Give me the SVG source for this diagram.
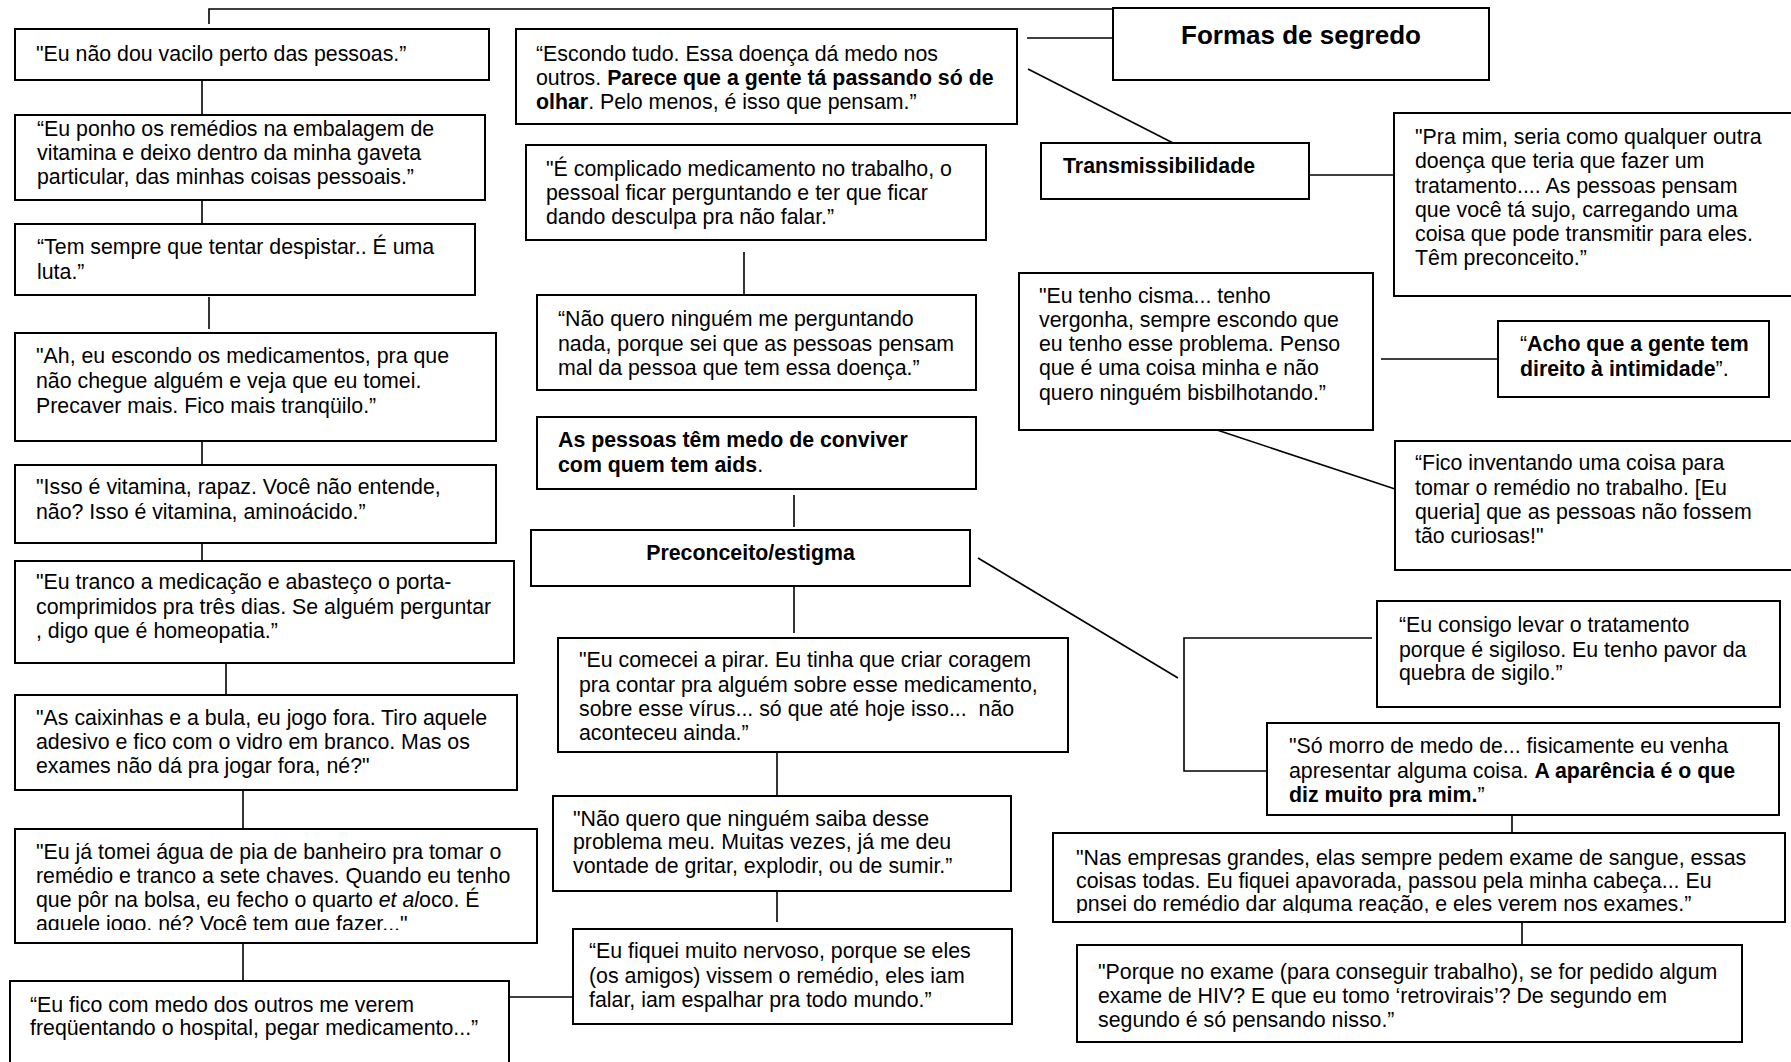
<svg xmlns="http://www.w3.org/2000/svg" width="1791" height="1062" viewBox="0 0 1791 1062">
  <style>
    .box { fill: #ffffff; stroke: #000000; stroke-width: 2; }
    .t { font-family: "Liberation Sans", Arial, sans-serif; font-size: 21.33px; fill: #000000; }
    .b { font-weight: bold; }
    .title { font-family: "Liberation Sans", Arial, sans-serif; font-size: 26px; font-weight: bold; fill: #000000; }
    #connectors line, #connectors polyline { stroke: #000000; stroke-width: 1.6; fill: none; }
  </style>
  <defs>
    <clipPath id="clip-n8"><rect x="15" y="829" width="522" height="101"/></clipPath>
    <clipPath id="clip-n25"><rect x="1053" y="833" width="732" height="80"/></clipPath>
  </defs>
  <rect width="1791" height="1062" fill="#ffffff"/>

  <!-- connectors -->
  <g id="connectors">
    <polyline points="209,24 209,9 1113,9"/>
    <line x1="202" y1="80" x2="202" y2="115"/>
    <line x1="202" y1="200" x2="202" y2="224"/>
    <line x1="209" y1="297" x2="209" y2="329"/>
    <line x1="202" y1="441" x2="202" y2="465"/>
    <line x1="202" y1="537" x2="202" y2="561"/>
    <line x1="226" y1="663" x2="226" y2="695"/>
    <line x1="243" y1="785" x2="243" y2="830"/>
    <line x1="243" y1="937" x2="243" y2="983"/>
    <line x1="509" y1="997" x2="573" y2="997"/>
    <line x1="1027" y1="38" x2="1113" y2="38"/>
    <line x1="1028" y1="69" x2="1177" y2="145"/>
    <line x1="744" y1="252" x2="744" y2="298"/>
    <line x1="794" y1="495" x2="794" y2="527"/>
    <line x1="794" y1="586" x2="794" y2="633"/>
    <line x1="777" y1="752" x2="777" y2="800"/>
    <line x1="777" y1="891" x2="777" y2="922"/>
    <line x1="1309" y1="175" x2="1394" y2="175"/>
    <line x1="1381" y1="359" x2="1498" y2="359"/>
    <line x1="1211" y1="428" x2="1395" y2="489"/>
    <line x1="978" y1="558" x2="1178" y2="678"/>
    <polyline points="1372,638 1184,638 1184,771 1267,771"/>
    <line x1="1512" y1="815" x2="1512" y2="833"/>
    <line x1="1522" y1="922" x2="1522" y2="945"/>
  </g>

  <!-- left column -->
  <g id="n1">
    <rect class="box" x="15" y="29" width="474" height="51"/>
    <text class="t" x="36" y="61">"Eu não dou vacilo perto das pessoas.”</text>
  </g>
  <g id="n2">
    <rect class="box" x="15" y="115" width="470" height="85"/>
    <text class="t" x="37" y="136">“Eu ponho os remédios na embalagem de</text>
    <text class="t" x="37" y="160">vitamina e deixo dentro da minha gaveta</text>
    <text class="t" x="37" y="184">particular, das minhas coisas pessoais.”</text>
  </g>
  <g id="n3">
    <rect class="box" x="15" y="224" width="460" height="71"/>
    <text class="t" x="37" y="254">“Tem sempre que tentar despistar.. É uma</text>
    <text class="t" x="37" y="279">luta.”</text>
  </g>
  <g id="n4">
    <rect class="box" x="15" y="333" width="481" height="108"/>
    <text class="t" x="36" y="363">"Ah, eu escondo os medicamentos, pra que</text>
    <text class="t" x="36" y="388">não chegue alguém e veja que eu tomei.</text>
    <text class="t" x="36" y="413">Precaver mais. Fico mais tranqüilo.”</text>
  </g>
  <g id="n5">
    <rect class="box" x="15" y="465" width="481" height="78"/>
    <text class="t" x="36" y="494">"Isso é vitamina, rapaz. Você não entende,</text>
    <text class="t" x="36" y="519">não? Isso é vitamina, aminoácido.”</text>
  </g>
  <g id="n6">
    <rect class="box" x="15" y="561" width="499" height="102"/>
    <text class="t" x="36" y="589">"Eu tranco a medicação e abasteço o porta-</text>
    <text class="t" x="36" y="614">comprimidos pra três dias. Se alguém perguntar</text>
    <text class="t" x="36" y="638">, digo que é homeopatia.”</text>
  </g>
  <g id="n7">
    <rect class="box" x="15" y="695" width="502" height="95"/>
    <text class="t" x="36" y="725">"As caixinhas e a bula, eu jogo fora. Tiro aquele</text>
    <text class="t" x="36" y="749">adesivo e fico com o vidro em branco. Mas os</text>
    <text class="t" x="36" y="773">exames não dá pra jogar fora, né?"</text>
  </g>
  <g id="n8">
    <rect class="box" x="15" y="829" width="522" height="114"/>
    <g clip-path="url(#clip-n8)">
      <text class="t" x="36" y="859">"Eu já tomei água de pia de banheiro pra tomar o</text>
      <text class="t" x="36" y="883">remédio e tranco a sete chaves. Quando eu tenho</text>
      <text class="t" x="36" y="907">que pôr na bolsa, eu fecho o quarto <tspan font-style="italic">et al</tspan>oco. É</text>
      <text class="t" x="36" y="931">aquele jogo, né? Você tem que fazer..."</text>
    </g>
  </g>
  <g id="n9">
    <rect class="box" x="10" y="981" width="499" height="100"/>
    <text class="t" x="30" y="1012">“Eu fico com medo dos outros me verem</text>
    <text class="t" x="30" y="1035">freqüentando o hospital, pegar medicamento...”</text>
  </g>

  <!-- middle column -->
  <g id="n10">
    <rect class="box" x="516" y="29" width="501" height="95"/>
    <text class="t" x="536" y="61">“Escondo tudo. Essa doença dá medo nos</text>
    <text class="t" x="536" y="85">outros. <tspan class="b">Parece que a gente tá passando só de</tspan></text>
    <text class="t" x="536" y="109"><tspan class="b">olhar</tspan>. Pelo menos, é isso que pensam.”</text>
  </g>
  <g id="n11">
    <rect class="box" x="526" y="145" width="460" height="95"/>
    <text class="t" x="546" y="176">"É complicado medicamento no trabalho, o</text>
    <text class="t" x="546" y="200">pessoal ficar perguntando e ter que ficar</text>
    <text class="t" x="546" y="224">dando desculpa pra não falar.”</text>
  </g>
  <g id="n12">
    <rect class="box" x="537" y="295" width="439" height="95"/>
    <text class="t" x="558" y="326">“Não quero ninguém me perguntando</text>
    <text class="t" x="558" y="351">nada, porque sei que as pessoas pensam</text>
    <text class="t" x="558" y="375">mal da pessoa que tem essa doença.”</text>
  </g>
  <g id="n13">
    <rect class="box" x="537" y="417" width="439" height="72"/>
    <text class="t b" x="558" y="447">As pessoas têm medo de conviver</text>
    <text class="t" x="558" y="472"><tspan class="b">com quem tem aids</tspan>.</text>
  </g>
  <g id="n14">
    <rect class="box" x="531" y="530" width="439" height="56"/>
    <text class="t b" x="750.5" y="560" text-anchor="middle">Preconceito/estigma</text>
  </g>
  <g id="n15">
    <rect class="box" x="558" y="638" width="510" height="114"/>
    <text class="t" x="579" y="667">"Eu comecei a pirar. Eu tinha que criar coragem</text>
    <text class="t" x="579" y="692">pra contar pra alguém sobre esse medicamento,</text>
    <text class="t" x="579" y="716" xml:space="preserve">sobre esse vírus... só que até hoje isso...  não</text>
    <text class="t" x="579" y="740">aconteceu ainda.”</text>
  </g>
  <g id="n16">
    <rect class="box" x="553" y="796" width="458" height="95"/>
    <text class="t" x="573" y="826">"Não quero que ninguém saiba desse</text>
    <text class="t" x="573" y="849">problema meu. Muitas vezes, já me deu</text>
    <text class="t" x="573" y="873">vontade de gritar, explodir, ou de sumir.”</text>
  </g>
  <g id="n17">
    <rect class="box" x="573" y="929" width="439" height="95"/>
    <text class="t" x="589" y="958">“Eu fiquei muito nervoso, porque se eles</text>
    <text class="t" x="589" y="983">(os amigos) vissem o remédio, eles iam</text>
    <text class="t" x="589" y="1007">falar, iam espalhar pra todo mundo.”</text>
  </g>

  <!-- right side -->
  <g id="title">
    <rect class="box" x="1113" y="8" width="376" height="72"/>
    <text class="title" x="1301" y="44" text-anchor="middle">Formas de segredo</text>
  </g>
  <g id="n18">
    <rect class="box" x="1041" y="143" width="268" height="56"/>
    <text class="t b" x="1063" y="173">Transmissibilidade</text>
  </g>
  <g id="n19">
    <rect class="box" x="1394" y="113" width="410" height="183"/>
    <text class="t" x="1415" y="144">"Pra mim, seria como qualquer outra</text>
    <text class="t" x="1415" y="168">doença que teria que fazer um</text>
    <text class="t" x="1415" y="193">tratamento.... As pessoas pensam</text>
    <text class="t" x="1415" y="217">que você tá sujo, carregando uma</text>
    <text class="t" x="1415" y="241">coisa que pode transmitir para eles.</text>
    <text class="t" x="1415" y="265">Têm preconceito.”</text>
  </g>
  <g id="n20">
    <rect class="box" x="1019" y="273" width="354" height="157"/>
    <text class="t" x="1039" y="303">"Eu tenho cisma... tenho</text>
    <text class="t" x="1039" y="327">vergonha, sempre escondo que</text>
    <text class="t" x="1039" y="351">eu tenho esse problema. Penso</text>
    <text class="t" x="1039" y="375">que é uma coisa minha e não</text>
    <text class="t" x="1039" y="400">quero ninguém bisbilhotando.”</text>
  </g>
  <g id="n21">
    <rect class="box" x="1498" y="321" width="271" height="76"/>
    <text class="t" x="1520" y="351">“<tspan class="b">Acho que a gente tem</tspan></text>
    <text class="t" x="1520" y="376"><tspan class="b">direito à intimidade</tspan>”.</text>
  </g>
  <g id="n22">
    <rect class="box" x="1395" y="441" width="410" height="129"/>
    <text class="t" x="1415" y="470">“Fico inventando uma coisa para</text>
    <text class="t" x="1415" y="495">tomar o remédio no trabalho. [Eu</text>
    <text class="t" x="1415" y="519">queria] que as pessoas não fossem</text>
    <text class="t" x="1415" y="543">tão curiosas!"</text>
  </g>
  <g id="n23">
    <rect class="box" x="1377" y="601" width="403" height="106"/>
    <text class="t" x="1399" y="632">“Eu consigo levar o tratamento</text>
    <text class="t" x="1399" y="657">porque é sigiloso. Eu tenho pavor da</text>
    <text class="t" x="1399" y="680">quebra de sigilo.”</text>
  </g>
  <g id="n24">
    <rect class="box" x="1267" y="723" width="512" height="92"/>
    <text class="t" x="1289" y="753">"Só morro de medo de... fisicamente eu venha</text>
    <text class="t" x="1289" y="778">apresentar alguma coisa. <tspan class="b">A aparência é o que</tspan></text>
    <text class="t" x="1289" y="802"><tspan class="b">diz muito pra mim.</tspan>”</text>
  </g>
  <g id="n25">
    <rect class="box" x="1053" y="833" width="732" height="89"/>
    <g clip-path="url(#clip-n25)">
      <text class="t" x="1076" y="865">"Nas empresas grandes, elas sempre pedem exame de sangue, essas</text>
      <text class="t" x="1076" y="888">coisas todas. Eu fiquei apavorada, passou pela minha cabeça... Eu</text>
      <text class="t" x="1076" y="911">pnsei do remédio dar alguma reação, e eles verem nos exames.”</text>
    </g>
  </g>
  <g id="n26">
    <rect class="box" x="1077" y="945" width="665" height="97"/>
    <text class="t" x="1098" y="979">"Porque no exame (para conseguir trabalho), se for pedido algum</text>
    <text class="t" x="1098" y="1003">exame de HIV? E que eu tomo ‘retrovirais’? De segundo em</text>
    <text class="t" x="1098" y="1027">segundo é só pensando nisso.”</text>
  </g>
</svg>
